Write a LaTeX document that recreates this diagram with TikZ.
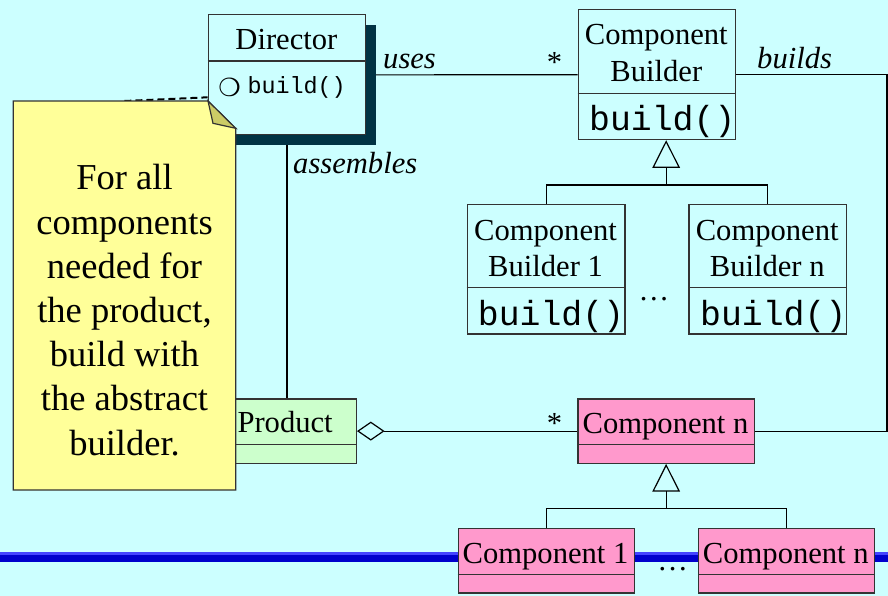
\documentclass[tikz,border=0pt]{standalone}
\usepackage{fontspec}
\setmainfont{Liberation Serif}
\setmonofont{Liberation Mono}
\newfontfamily\dingfont{DejaVu Sans}
\usetikzlibrary{arrows.meta,shadows}

\definecolor{slidebg}{HTML}{CCFFFF}
\definecolor{productfill}{HTML}{CCFFCC}
\definecolor{componentfill}{HTML}{FF99CC}
\definecolor{notefill}{HTML}{FFFF99}
\definecolor{foldfill}{HTML}{CCCC66}
\definecolor{shadowfill}{HTML}{003344}
\definecolor{barblue}{HTML}{0000CC}
\definecolor{barlight}{HTML}{4444FF}

\pgfdeclarelayer{background}
\pgfdeclarelayer{connectors}
\pgfsetlayers{background,connectors,main}

\tikzset{
  class box/.style={draw=black!80, line width=1.2pt, inner sep=0pt, anchor=north west},
  class name/.style={font=\fontsize{30.6}{36.7}\selectfont, align=center, anchor=base, inner sep=0pt},
  method/.style={font=\ttfamily\fontsize{34.8}{36}\selectfont, anchor=base west, inner sep=0pt},
  role/.style={font=\itshape\fontsize{30.6}{36}\selectfont, anchor=base west, inner sep=0pt},
  mult/.style={font=\fontsize{30.6}{36}\selectfont, anchor=base west, inner sep=0pt},
  link/.style={line width=1.2pt},
  inherits/.style={link, -{Triangle[open, length=27.7pt, width=27.6pt]}},
  aggregate/.style={link, {Diamond[open, length=27.6pt, width=19pt]}-},
}

\begin{document}
\begin{tikzpicture}[x=1pt, y=-1pt]
  \useasboundingbox (0,0) rectangle (888,596);

  \begin{pgfonlayer}{background}
    \fill [slidebg] (0,0) rectangle (888,596);
    \fill [barblue] (0,552) rectangle (888,562);
    \fill [barlight] (0,552) rectangle (888,554.5);
  \end{pgfonlayer}

  % director
  \node [class box, fill=slidebg, minimum width=157.3pt, minimum height=120pt,
    drop shadow={shadow xshift=10pt, shadow yshift=-10pt, fill=shadowfill, opacity=1}]
    (director) at (207.7,14.3) {};
  \draw [draw=black!80, line width=1.2pt]
    (director.north west)
    ++(0,46.7)
    -- ++(157.3,0)
  ;
  \node [class name] (director name) at (286.4,50) {Director};
  \node [font=\dingfont\bfseries\fontsize{25}{25}\selectfont, inner sep=0pt]
    (director op mark) at (229.5,87.2) {❍};
  \node [method, font=\ttfamily\fontsize{23.4}{24}\selectfont]
    (director op) at (247.3,94) {build()};

  % builders
  \node [class box, fill=slidebg, minimum width=157.3pt, minimum height=129.7pt]
    (cb) at (577.7,9.3) {};
  \draw [draw=black!80, line width=1.2pt]
    (cb.north west)
    ++(0,84)
    -- ++(157.3,0)
  ;
  \node [class name] (cb name) at (656.3,81.7) {Component\\Builder};
  \node [method] (cb op) at (589,131) {build()};

  \node [class box, fill=slidebg, minimum width=157.6pt, minimum height=129.3pt]
    (cb1) at (466.7,204) {};
  \draw [draw=black!80, line width=1.2pt]
    (cb1.north west)
    ++(0,83.3)
    -- ++(157.6,0)
  ;
  \node [class name] (cb1 name) at (545.5,276.7) {Component\\Builder 1};
  \node [method] (cb1 op) at (477.7,325.5) {build()};

  \node [class box, fill=slidebg, minimum width=157.6pt, minimum height=129.3pt]
    (cbn) at (688.3,204) {};
  \draw [draw=black!80, line width=1.2pt]
    (cbn.north west)
    ++(0,83.3)
    -- ++(157.6,0)
  ;
  \node [class name] (cbn name) at (767.2,276.7) {Component\\Builder n};
  \node [method] (cbn op) at (700,325.5) {build()};
  \node [class name] (cb dots) at (653.8,300) {\dots};

  % product and components
  \node [class box, fill=productfill, minimum width=120.7pt, minimum height=64.4pt]
    (product) at (235.1,398.3) {};
  \draw [draw=black!80, line width=1.2pt]
    (product.north west)
    ++(0,46)
    -- ++(120.7,0)
  ;
  \node [class name, anchor=base west] (product name) at (237.3,432.7) {Product};

  \node [class box, fill=componentfill, minimum width=176.3pt, minimum height=64.4pt]
    (compn) at (577.4,398.3) {};
  \draw [draw=black!80, line width=1.2pt]
    (compn.north west)
    ++(0,46)
    -- ++(176.3,0)
  ;
  \node [class name] (compn name) at (665.5,433) {Component n};

  \node [class box, fill=componentfill, minimum width=175.9pt, minimum height=64.6pt]
    (comp1) at (457.6,527.7) {};
  \draw [draw=black!80, line width=1.2pt]
    (comp1.north west)
    ++(0,46.6)
    -- ++(175.9,0)
  ;
  \node [class name] (comp1 name) at (545.5,563) {Component 1};

  \node [class box, fill=componentfill, minimum width=175.5pt, minimum height=64.6pt]
    (compn2) at (698,527.7) {};
  \draw [draw=black!80, line width=1.2pt]
    (compn2.north west)
    ++(0,46.6)
    -- ++(175.5,0)
  ;
  \node [class name] (compn2 name) at (785.8,563) {Component n};
  \node [class name] (comp dots) at (672.7,570) {\dots};

  % note
  \draw [fill=notefill, draw=black!80, line width=1.2pt]
    (13.3,101)
    -- (208,101)
      coordinate [pos=0.571] (note top)
    -- (235.7,128.3)
    -- (235.7,490)
    -- (13.3,490)
    -- cycle
  ;
  \draw [fill=foldfill, draw=black!80, line width=1.2pt]
    (208,101)
    -- (213,123.3)
    -- (235.7,128.3)
    -- cycle
  ;
  \node [font=\fontsize{36.5}{44.2}\selectfont, align=center, anchor=base, inner sep=0pt]
    (note) at (124.5,455)
    {For all\\components\\needed for\\the product,\\build with\\the abstract\\builder.};

  % labels
  \node [role] (uses label) at (383,68.3) {uses};
  \node [mult] (uses mult) at (546.7,73) {*};
  \node [role] (builds label) at (757,68.3) {builds};
  \node [role] (assembles label) at (293,173.3) {assembles};
  \node [mult] (part mult) at (546.7,433) {*};

  \begin{pgfonlayer}{connectors}
    \draw [link] (director.east) -- (cb.west);
    \draw [link]
      (cb.east)
      -- ++(150.7,0)
      |- (compn.east)
    ;
    \draw [link] (director.south) -- (director.south |- product.north);
    \draw [aggregate] (product.east) -- (compn.west);
    \draw [link]
      (cb1.north)
      -- ++(0,-19)
        coordinate (cb bar)
      -| (cbn.north)
    ;
    \draw [inherits] (cb bar -| compn.north) -- (cb.south -| compn.north);
    \draw [link]
      (comp1.north)
      -- ++(0,-19)
        coordinate (comp bar)
      -| (compn2.north)
    ;
    \draw [inherits] (comp bar -| compn.south) -- (compn.south);
    \draw [line width=2pt, dash pattern=on 7pt off 4pt]
      (note top)
      -- ([yshift=-22.4pt]director.west)
    ;
  \end{pgfonlayer}
\end{tikzpicture}
\end{document}
